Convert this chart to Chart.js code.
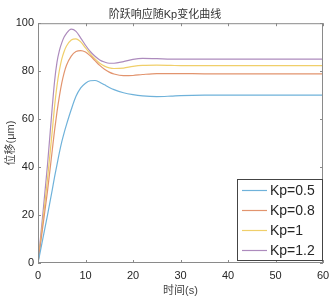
<!DOCTYPE html>
<html>
<head>
<meta charset="utf-8">
<script src="https://cdn.jsdelivr.net/npm/chart.js@4"></script>
<style>
  html, body { margin: 0; padding: 0; background: #fff; }
  #wrap { width: 330px; height: 299px; }
</style>
</head>
<body>
<div id="wrap"><canvas id="c" width="330" height="299"></canvas></div>
<script>
// 时间 (s)
const times = [0, 1, 2, 3, 3.5, 4, 4.5, 5, 5.5, 6, 7, 8, 9, 10, 11, 12, 13, 14, 15, 16, 18, 20, 22, 25, 28, 30, 35, 40, 50, 60];

// 各Kp下的位移 (μm)
const kp05 = [0, 10, 20, 30.5, 36, 41, 46, 50.5, 54.3, 57.7, 64, 69.5, 73, 75, 76, 76.1, 75.4, 74.3, 73.2, 72.3, 71, 70.2, 69.7, 69.4, 69.6, 69.8, 70, 70, 70, 70];
const kp08 = [0, 15, 30, 47, 55.5, 63, 69.5, 75, 79.3, 82.5, 86.3, 88.2, 88.6, 88, 86.4, 84.4, 82.4, 80.8, 79.6, 78.8, 78.1, 78.2, 78.6, 79, 79, 79, 78.9, 78.9, 78.9, 78.9];
const kp1 = [0, 17, 35, 55, 65.5, 74, 80.3, 85, 88.2, 90.5, 93, 93.5, 92.2, 89.7, 87.2, 85.1, 83.3, 82.1, 81.4, 81.1, 81.3, 82, 82.4, 82.5, 82.4, 82.3, 82.3, 82.3, 82.3, 82.3];
const kp12 = [0, 20, 41, 65, 76, 83.8, 88.6, 91.8, 94.2, 95.8, 97.5, 96.6, 93.8, 90.8, 88.2, 86.2, 84.7, 83.8, 83.3, 83.3, 84, 84.9, 85.3, 85.2, 85, 85, 85, 85, 85, 85];

const seriesLabels = ['Kp=0.5', 'Kp=0.8', 'Kp=1', 'Kp=1.2'];
const seriesData = [kp05, kp08, kp1, kp12];
const seriesColors = ['#6fb2da', '#e2946e', '#f0cf6a', '#ad8bbd'];

const FONT = "'Liberation Sans', 'Noto Sans CJK SC', sans-serif";

// 边框和向内的刻度线 (MATLAB风格)
const boxPlugin = {
    id: 'box',
    afterDraw(chart) {
        const ctx = chart.ctx;
        const a = chart.chartArea;
        const xs = chart.scales.x, ys = chart.scales.y;
        ctx.save();
        ctx.strokeStyle = '#8a8a8a';
        ctx.lineWidth = 1;
        ctx.strokeRect(a.left + 0.5, a.top + 0.5, a.right - a.left - 1, a.bottom - a.top - 1);
        ctx.beginPath();
        xs.ticks.forEach((t, i) => {
            const px = Math.round(xs.getPixelForTick(i)) + 0.5;
            ctx.moveTo(px, a.bottom); ctx.lineTo(px, a.bottom - 3);
            ctx.moveTo(px, a.top); ctx.lineTo(px, a.top + 3);
        });
        ys.ticks.forEach((t, i) => {
            const py = Math.round(ys.getPixelForTick(i)) + 0.5;
            ctx.moveTo(a.left, py); ctx.lineTo(a.left + 3, py);
            ctx.moveTo(a.right, py); ctx.lineTo(a.right - 3, py);
        });
        ctx.stroke();

        // 图例 (右下角)
        const w = 85, h = 81;
        const bx = a.right - 1 - w, by = a.bottom - 3 - h;
        ctx.fillStyle = '#fff';
        ctx.fillRect(bx, by, w, h);
        ctx.strokeStyle = '#444';
        ctx.strokeRect(bx + 0.5, by + 0.5, w, h);
        ctx.font = '14px ' + FONT;
        ctx.textBaseline = 'middle';
        chart.data.datasets.forEach((ds, i) => {
            const y = by + 11.5 + i * 20;
            ctx.strokeStyle = ds.borderColor;
            ctx.lineWidth = 1.2;
            ctx.beginPath();
            ctx.moveTo(bx + 5, y); ctx.lineTo(bx + 30, y);
            ctx.stroke();
            ctx.fillStyle = '#262626';
            ctx.fillText(ds.label, bx + 33, y + 1);
        });
        ctx.restore();
    }
};

new Chart(document.getElementById('c'), {
    type: 'line',
    data: {
        datasets: seriesLabels.map((lab, i) => ({
            label: lab,
            data: times.map((t, j) => ({ x: t, y: seriesData[i][j] })),
            borderColor: seriesColors[i],
            borderWidth: 1.2,
            pointRadius: 0,
            fill: false,
            cubicInterpolationMode: 'monotone'
        }))
    },
    options: {
        responsive: false,
        animation: false,
        layout: { padding: { left: 0, right: 0, top: 0, bottom: 0 } },
        plugins: {
            legend: { display: false },
            tooltip: { enabled: false },
            title: {
                display: true,
                text: '阶跃响应随Kp变化曲线',
                color: '#333',
                font: { family: FONT, size: 11, weight: 'normal' },
                padding: { top: 8, bottom: 2 }
            }
        },
        scales: {
            x: {
                type: 'linear',
                min: 0, max: 60,
                ticks: { stepSize: 10, color: '#262626', font: { family: FONT, size: 11 }, padding: 6, maxRotation: 0 },
                grid: { display: false, drawTicks: false },
                border: { display: false },
                title: { display: true, text: '时间(s)', color: '#444', font: { family: FONT, size: 11 }, padding: { top: 0, bottom: 1 } },
                afterFit(s) { s.height = 36; s.paddingLeft = 0; s.paddingRight = 7; }
            },
            y: {
                min: 0, max: 100,
                ticks: { stepSize: 20, color: '#262626', font: { family: FONT, size: 11 }, padding: 4 },
                grid: { display: false, drawTicks: false },
                border: { display: false },
                title: { display: true, text: '位移(μm)', color: '#444', font: { family: FONT, size: 11 }, padding: { top: 4, bottom: 0 } },
                afterFit(s) { s.width = 38; }
            }
        }
    },
    plugins: [boxPlugin]
});
</script>
</body>
</html>
